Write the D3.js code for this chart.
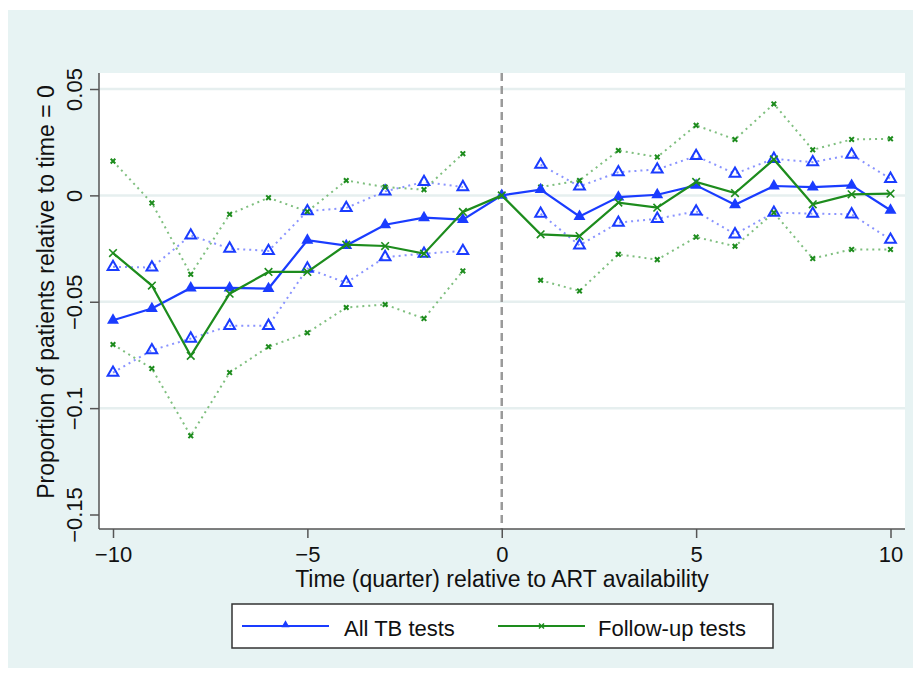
<!DOCTYPE html>
<html>
<head>
<meta charset="utf-8">
<script src="https://cdnjs.cloudflare.com/ajax/libs/d3/7.8.5/d3.min.js"></script>
<style>
	body { margin: 0; background: #ffffff; }
	text { font-family: "Liberation Sans", Arial, Helvetica, sans-serif; fill: #111111; }
</style>
</head>
<body>
<div id="chart"></div>
<script>
// quarters relative to ART availability
let quarters = [-10,-9,-8,-7,-6,-5,-4,-3,-2,-1,0,1,2,3,4,5,6,7,8,9,10]

// All TB tests: point estimate and 95% CI bounds (no CI at t = 0)
let allTests   = [-0.0587,-0.0532,-0.0435,-0.0435,-0.0438,-0.0211,-0.0236,-0.0138,-0.0105,-0.0114,0,0.0027,-0.0099,-0.0008,0.0003,0.0047,-0.0044,0.0044,0.0039,0.0047,-0.0070]
let allTestsHi = [-0.0336,-0.0339,-0.0188,-0.0250,-0.0261,-0.0074,-0.0059,0.0019,0.0063,0.0039,null,0.0144,0.0042,0.0109,0.0122,0.0185,0.0102,0.0172,0.0156,0.0191,0.0078]
let allTestsLo = [-0.0833,-0.0728,-0.0673,-0.0613,-0.0613,-0.0344,-0.0411,-0.0290,-0.0274,-0.0261,null,-0.0086,-0.0235,-0.0128,-0.0110,-0.0075,-0.0183,-0.0081,-0.0086,-0.0089,-0.0208]

// Follow-up tests
let followUp   = [-0.0271,-0.0424,-0.0754,-0.0462,-0.0360,-0.0360,-0.0232,-0.0238,-0.0274,-0.0078,0,-0.0183,-0.0191,-0.0034,-0.0058,0.0063,0.0011,0.0169,-0.0042,0.0005,0.0008]
let followUpHi = [0.0161,-0.0036,-0.0371,-0.0089,-0.0011,-0.0076,0.0070,0.0039,0.0027,0.0196,null,0.0039,0.0070,0.0211,0.0180,0.0329,0.0263,0.0430,0.0214,0.0263,0.0266]
let followUpLo = [-0.0701,-0.0814,-0.1130,-0.0833,-0.0712,-0.0646,-0.0527,-0.0513,-0.0579,-0.0355,null,-0.0399,-0.0449,-0.0277,-0.0302,-0.0196,-0.0239,-0.0081,-0.0297,-0.0254,-0.0254]

let xTicks = [-10,-5,0,5,10]
let yTicks = [-0.15,-0.1,-0.05,0,0.05]
let yGrid = [-0.1,-0.05,0,0.05]

let xTitle = 'Time (quarter) relative to ART availability'
let yTitle = 'Proportion of patients relative to time = 0'
let legendLabels = ['All TB tests','Follow-up tests']

let blue = '#1a3cff', blueLight = '#8a94ff'
let green = '#1d8c1d', greenLight = '#7fbf7f'

function zip(values){
	return quarters.map(function(q,i){ return {x:q, y:values[i]} })
}

function crossPath(r){
	return 'M' + (-r) + ',' + (-r) + 'L' + r + ',' + r + 'M' + (-r) + ',' + r + 'L' + r + ',' + (-r)
}

function draw(){
	let width = 917, height = 673
	let plot = {left: 99, right: 905, top: 73, bottom: 529}

	let svg = d3.select('#chart')
		.append('svg')
		.attr('width', width)
		.attr('height', height)

	// outer graph region
	svg.append('rect')
		.attr('x', 8).attr('y', 10)
		.attr('width', 905).attr('height', 658)
		.attr('fill', '#e7f3f3')

	// plot region
	svg.append('rect')
		.attr('x', plot.left).attr('y', plot.top)
		.attr('width', plot.right - plot.left).attr('height', plot.bottom - plot.top)
		.attr('fill', '#ffffff')

	let x = d3.scaleLinear()
		.domain([-10, 10])
		.range([113, 890.5])

	let y = d3.scaleLinear()
		.domain([-0.15, 0.05])
		.range([514.5, 89])

	// gridlines
	svg.selectAll('.grid')
		.data(yGrid)
		.enter()
		.append('line')
		.attr('x1', plot.left).attr('x2', plot.right)
		.attr('y1', function(d){ return y(d) })
		.attr('y2', function(d){ return y(d) })
		.attr('stroke', '#e6efef')
		.attr('stroke-width', 2.5)

	// vertical reference line at t = 0
	svg.append('line')
		.attr('x1', x(0)).attr('x2', x(0))
		.attr('y1', plot.top).attr('y2', plot.bottom)
		.attr('stroke', '#9a9a9a')
		.attr('stroke-width', 2.5)
		.attr('stroke-dasharray', '8,5')

	let line = d3.line()
		.defined(function(d){ return d.y != null })
		.x(function(d){ return x(d.x) })
		.y(function(d){ return y(d.y) })

	// confidence bounds: dotted lines with hollow markers
	let bounds = [
		{values: allTestsHi, colour: blueLight, marker: 'tri'},
		{values: allTestsLo, colour: blueLight, marker: 'tri'},
		{values: followUpHi, colour: greenLight, marker: 'x'},
		{values: followUpLo, colour: greenLight, marker: 'x'}
	]

	bounds.forEach(function(b){
		svg.append('path')
			.datum(zip(b.values))
			.attr('fill', 'none')
			.attr('stroke', b.colour)
			.attr('stroke-width', 2)
			.attr('stroke-dasharray', '2,4')
			.attr('d', line)
	})

	bounds.forEach(function(b){
		let pts = zip(b.values).filter(function(d){ return d.y != null })
		if(b.marker == 'tri'){
			svg.selectAll('bt')
				.data(pts)
				.enter()
				.append('path')
				.attr('transform', function(d){ return 'translate(' + x(d.x) + ',' + y(d.y) + ')' })
				.attr('d', d3.symbol(d3.symbolTriangle).size(50))
				.attr('fill', 'none')
				.attr('stroke', blue)
				.attr('stroke-width', 2)
		} else {
			svg.selectAll('bx')
				.data(pts)
				.enter()
				.append('path')
				.attr('transform', function(d){ return 'translate(' + x(d.x) + ',' + y(d.y) + ')' })
				.attr('d', crossPath(2.3))
				.attr('stroke', green)
				.attr('stroke-width', 2)
		}
	})

	// point estimates
	svg.append('path')
		.datum(zip(allTests))
		.attr('fill', 'none')
		.attr('stroke', blue)
		.attr('stroke-width', 2.2)
		.attr('d', line)

	svg.selectAll('at')
		.data(zip(allTests))
		.enter()
		.append('path')
		.attr('transform', function(d){ return 'translate(' + x(d.x) + ',' + y(d.y) + ')' })
		.attr('d', d3.symbol(d3.symbolTriangle).size(62))
		.attr('fill', blue)

	svg.append('path')
		.datum(zip(followUp))
		.attr('fill', 'none')
		.attr('stroke', green)
		.attr('stroke-width', 2.2)
		.attr('d', line)

	svg.selectAll('fx')
		.data(zip(followUp))
		.enter()
		.append('path')
		.attr('transform', function(d){ return 'translate(' + x(d.x) + ',' + y(d.y) + ')' })
		.attr('d', crossPath(3.8))
		.attr('stroke', green)
		.attr('stroke-width', 1.6)

	// axes
	let fmt = d3.format('~g')

	let xAxis = svg.append('g')
		.attr('transform', 'translate(0,' + plot.bottom + ')')
		.call(d3.axisBottom(x).tickValues(xTicks).tickSize(9).tickFormat(fmt))
	xAxis.select('.domain').remove()
	xAxis.selectAll('.tick line').attr('stroke', '#555555').attr('stroke-width', 1.5)
	xAxis.selectAll('.tick text')
		.attr('y', 17)
		.attr('font-size', 22)
		.attr('fill', '#111111')

	let yAxis = svg.append('g')
		.attr('transform', 'translate(' + plot.left + ',0)')
		.call(d3.axisLeft(y).tickValues(yTicks).tickSize(9).tickFormat(fmt))
	yAxis.select('.domain').remove()
	yAxis.selectAll('.tick line').attr('stroke', '#555555').attr('stroke-width', 1.5)
	yAxis.selectAll('.tick text')
		.attr('transform', 'rotate(-90)')
		.attr('x', 0)
		.attr('y', -17)
		.attr('dy', 0)
		.attr('text-anchor', 'middle')
		.attr('font-size', 22)
		.attr('fill', '#111111')

	// axis lines
	svg.append('line')
		.attr('x1', plot.left).attr('x2', plot.left)
		.attr('y1', plot.top).attr('y2', plot.bottom)
		.attr('stroke', '#555555').attr('stroke-width', 1.5)
	svg.append('line')
		.attr('x1', plot.left).attr('x2', plot.right)
		.attr('y1', plot.bottom).attr('y2', plot.bottom)
		.attr('stroke', '#555555').attr('stroke-width', 1.5)

	// axis titles
	svg.append('text')
		.attr('x', 502)
		.attr('y', 587)
		.attr('text-anchor', 'middle')
		.attr('font-size', 23)
		.text(xTitle)

	svg.append('text')
		.attr('transform', 'translate(54,292) rotate(-90)')
		.attr('text-anchor', 'middle')
		.attr('font-size', 23)
		.text(yTitle)

	// legend
	let legend = svg.append('g')
	legend.append('rect')
		.attr('x', 232).attr('y', 604)
		.attr('width', 541).attr('height', 44)
		.attr('fill', '#ffffff')
		.attr('stroke', '#333333')
		.attr('stroke-width', 1.5)

	let entries = [
		{label: legendLabels[0], colour: blue, x1: 242, x2: 329, tx: 344, marker: 'tri'},
		{label: legendLabels[1], colour: green, x1: 498, x2: 585, tx: 598, marker: 'x'}
	]

	entries.forEach(function(e){
		legend.append('line')
			.attr('x1', e.x1).attr('x2', e.x2)
			.attr('y1', 626).attr('y2', 626)
			.attr('stroke', e.colour)
			.attr('stroke-width', 2)
		let mx = (e.x1 + e.x2) / 2
		if(e.marker == 'tri'){
			legend.append('path')
				.attr('transform', 'translate(' + mx + ',625)')
				.attr('d', d3.symbol(d3.symbolTriangle).size(28))
				.attr('fill', e.colour)
		} else {
			legend.append('path')
				.attr('transform', 'translate(' + mx + ',626)')
				.attr('d', crossPath(2.5))
				.attr('stroke', e.colour)
				.attr('stroke-width', 1.5)
		}
		legend.append('text')
			.attr('x', e.tx)
			.attr('y', 636)
			.attr('font-size', 22)
			.text(e.label)
	})
}

draw()
</script>
</body>
</html>
